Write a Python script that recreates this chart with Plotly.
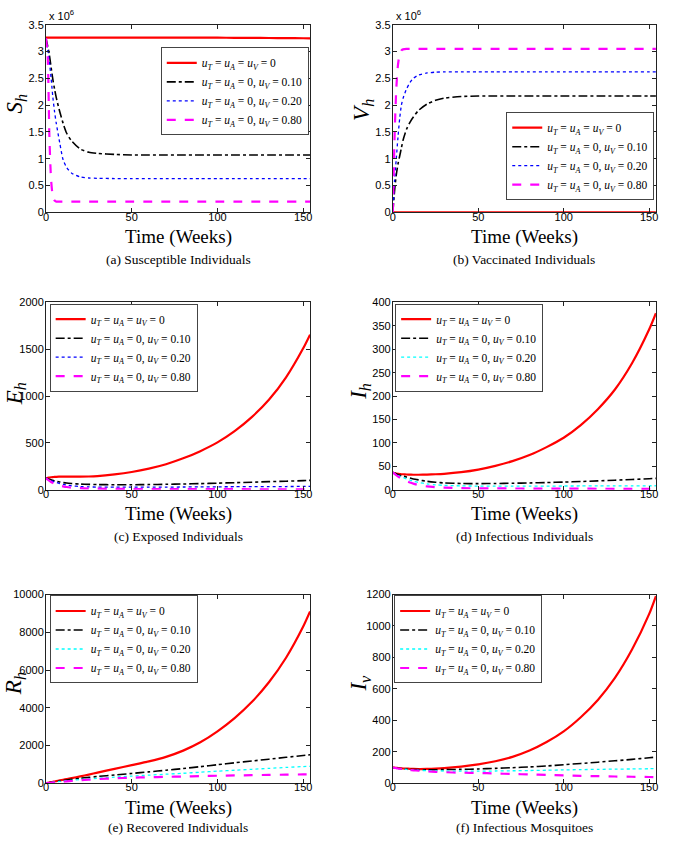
import plotly.graph_objects as go

W, H = 690, 843

# ---------------- data ----------------
T = [0, 1, 2, 3, 4, 5, 6, 8, 10, 12, 15, 20, 25, 30, 40, 50, 60, 70, 80, 90,
     100, 110, 120, 130, 140, 150, 154]

series_labels = [
    "<i>u</i><sub><i>T</i></sub> = <i>u</i><sub><i>A</i></sub> = <i>u</i><sub><i>V</i></sub> = 0",
    "<i>u</i><sub><i>T</i></sub> = <i>u</i><sub><i>A</i></sub> = 0, <i>u</i><sub><i>V</i></sub> = 0.10",
    "<i>u</i><sub><i>T</i></sub> = <i>u</i><sub><i>A</i></sub> = 0, <i>u</i><sub><i>V</i></sub> = 0.20",
    "<i>u</i><sub><i>T</i></sub> = <i>u</i><sub><i>A</i></sub> = 0, <i>u</i><sub><i>V</i></sub> = 0.80",
]

# (a) Susceptible humans, x 10^6
Sh_0 = [3.26, 3.26, 3.26, 3.26, 3.26, 3.26, 3.26, 3.26, 3.26, 3.26, 3.26, 3.26, 3.26, 3.26,
        3.26, 3.26, 3.26, 3.26, 3.26, 3.26, 3.258, 3.256, 3.254, 3.252, 3.25, 3.248, 3.247]
Sh_010 = [3.25, 3.10, 2.93, 2.70, 2.48, 2.30, 2.14, 1.88, 1.66, 1.48, 1.33, 1.18, 1.12, 1.10,
          1.08, 1.07, 1.07, 1.07, 1.07, 1.07, 1.07, 1.07, 1.07, 1.07, 1.07, 1.07, 1.07]
Sh_020 = [3.25, 3.05, 2.80, 2.50, 2.15, 1.88, 1.66, 1.30, 0.98, 0.84, 0.73, 0.66, 0.64, 0.635,
          0.63, 0.63, 0.63, 0.63, 0.63, 0.63, 0.63, 0.63, 0.63, 0.63, 0.63, 0.63, 0.63]
Sh_080 = [3.25, 2.90, 1.40, 0.60, 0.30, 0.22, 0.20, 0.20, 0.20, 0.20, 0.20, 0.20, 0.20, 0.20,
          0.20, 0.20, 0.20, 0.20, 0.20, 0.20, 0.20, 0.20, 0.20, 0.20, 0.20, 0.20, 0.20]

# (b) Vaccinated humans, x 10^6
Vh_0 = [0] * 27
Vh_010 = [0, 0.40, 0.70, 0.90, 1.05, 1.20, 1.35, 1.55, 1.68, 1.78, 1.90, 2.02, 2.09, 2.13,
          2.16, 2.17, 2.17, 2.17, 2.17, 2.17, 2.17, 2.17, 2.17, 2.17, 2.17, 2.17, 2.17]
Vh_020 = [0, 0.60, 1.00, 1.40, 1.75, 2.00, 2.13, 2.30, 2.42, 2.50, 2.56, 2.60, 2.615, 2.62,
          2.62, 2.62, 2.62, 2.62, 2.62, 2.62, 2.62, 2.62, 2.62, 2.62, 2.62, 2.62, 2.62]
Vh_080 = [0, 1.40, 2.30, 2.75, 2.95, 3.02, 3.04, 3.05, 3.05, 3.05, 3.05, 3.05, 3.05, 3.05,
          3.05, 3.05, 3.05, 3.05, 3.05, 3.05, 3.05, 3.05, 3.05, 3.05, 3.05, 3.05, 3.05]

# (c) Exposed humans
Eh_0 = [123, 127, 130, 133, 135, 137, 138, 139, 140, 140, 140, 140, 141, 145, 163, 189, 225,
        272, 335, 412, 505, 625, 775, 960, 1200, 1510, 1656]
Eh_010 = [123, 118, 112, 106, 100, 95, 90, 82, 76, 71, 66, 60, 57, 55, 53, 53, 55, 58, 61, 65,
          70, 75, 80, 86, 91, 97, 100]
Eh_020 = [123, 114, 105, 97, 90, 83, 77, 66, 57, 50, 42, 34, 30, 28, 27, 27, 28, 28, 29, 30,
          31, 32, 32, 33, 34, 35, 35]
Eh_080 = [123, 108, 95, 83, 73, 64, 57, 45, 36, 29, 22, 16, 13, 11, 9, 8, 7, 7, 6, 6, 6, 6, 5,
          5, 5, 5, 5]

# (d) Infectious humans
Ih_0 = [37, 35.5, 34.5, 34, 33.5, 33, 33, 32.5, 32.3, 32, 32, 32.3, 33, 34, 37.5, 43, 51, 61,
        74, 91, 111, 138, 172, 214, 270, 342, 377]
Ih_010 = [37, 35.5, 34, 32.5, 31, 30, 29, 27, 25, 23, 21, 18, 16, 14.5, 13.3, 13, 13.3, 13.8,
          14.5, 15.3, 16.3, 17.5, 18.8, 20.3, 21.8, 23.5, 24.3]
Ih_020 = [37, 35, 33, 31, 29, 27.5, 26, 23, 20.5, 18, 15.5, 12.5, 10.5, 9.3, 8.2, 7.8, 7.6, 7.6,
          7.7, 7.8, 7.9, 8, 8.1, 8.2, 8.3, 8.4, 8.5]
Ih_080 = [37, 34, 31, 28.5, 26, 24, 22, 18.5, 15.5, 13, 10, 7, 5.3, 4.3, 3.4, 3, 2.8, 2.6, 2.5,
          2.4, 2.3, 2.2, 2.1, 2, 1.9, 1.8, 1.8]

# (e) Recovered humans
Rh_0 = [0, 20, 40, 60, 78, 96, 114, 150, 185, 220, 270, 365, 462, 565, 765, 960, 1160, 1400,
        1730, 2170, 2750, 3450, 4300, 5350, 6650, 8300, 9100]
Rh_010 = [0, 17, 33, 49, 65, 80, 95, 123, 150, 175, 210, 265, 315, 360, 440, 520, 605, 690, 780,
          880, 985, 1085, 1180, 1275, 1375, 1470, 1510]
Rh_020 = [0, 15, 29, 42, 54, 65, 76, 96, 115, 133, 157, 195, 230, 263, 325, 381, 432, 480, 530,
          585, 641, 690, 740, 790, 840, 884, 900]
Rh_080 = [0, 11, 21, 31, 40, 49, 57, 72, 86, 100, 122, 158, 190, 220, 262, 295, 320, 340, 360,
          380, 399, 415, 430, 443, 455, 468, 473]

# (f) Infectious mosquitoes
Iv_0 = [100, 99, 98, 97, 96, 95, 94, 93, 92, 91, 90.5, 91, 93, 96, 106, 120, 140, 168, 208, 262,
        330, 420, 530, 670, 850, 1075, 1190]
Iv_010 = [100, 98.5, 97, 95.5, 94, 93, 92, 90, 88.5, 87.5, 86.5, 86, 86, 87, 88.5, 91, 95, 99,
          104, 110, 118, 126, 134, 143, 152, 162, 166]
Iv_020 = [100, 98, 96.5, 95, 93.5, 92, 90.5, 88, 86, 84.5, 82.5, 80.5, 79, 78, 77, 77, 78, 79.5,
          81, 83, 85, 87, 88.5, 90, 91, 92.5, 93]
Iv_080 = [100, 98, 96, 94, 92.5, 91, 89.5, 87, 84.5, 82.5, 80, 76, 73, 70.5, 67, 66, 62, 59, 56,
          53, 50, 47.5, 45, 43, 41.5, 40, 39]

# ---------------- layout helpers ----------------
SERIF = "Liberation Serif"
SANS = "Liberation Sans"


def px(xp):
    return xp / W


def py(yp):
    return 1 - yp / H


LEFT = (43.3, 309.3)
RIGHT = (392.7, 657.7)

panels = [
    dict(data=[Sh_0, Sh_010, Sh_020, Sh_080], yr=[0, 3.5], dt=0.5, yl="S", ys="h", c3="#0000ff",
         xb=LEFT, yb=(19, 209.3), leg=dict(x=308, y=42, xa="right", ya="top"),
         cap="(a) Susceptible Individuals", capy=257, yty=99, ytx=13, exp=True, fmt=""),
    dict(data=[Vh_0, Vh_010, Vh_020, Vh_080], yr=[0, 3.5], dt=0.5, yl="V", ys="h", c3="#0000ff",
         xb=RIGHT, yb=(19, 209.3), leg=dict(x=656, y=197, xa="right", ya="bottom"),
         cap="(b) Vaccinated Individuals", capy=257, yty=105, ytx=362, exp=True, fmt=""),
    dict(data=[Eh_0, Eh_010, Eh_020, Eh_080], yr=[0, 2000], dt=500, yl="E", ys="h", c3="#0000ff",
         xb=LEFT, yb=(300.7, 490.7), leg=dict(x=47, y=302, xa="left", ya="top"),
         cap="(c) Exposed Individuals", capy=538, yty=393, ytx=13, exp=False, fmt="d"),
    dict(data=[Ih_0, Ih_010, Ih_020, Ih_080], yr=[0, 400], dt=50, yl="I", ys="h", c3="#00ffff",
         xb=RIGHT, yb=(300.7, 490.7), leg=dict(x=395, y=302, xa="left", ya="top"),
         cap="(d) Infectious Individuals", capy=538, yty=391, ytx=360, exp=False, fmt="d"),
    dict(data=[Rh_0, Rh_010, Rh_020, Rh_080], yr=[0, 10000], dt=2000, yl="R", ys="h", c3="#00ffff",
         xb=LEFT, yb=(597, 788.5), leg=dict(x=47, y=598, xa="left", ya="top"),
         cap="(e) Recovered Individuals", capy=833, yty=687, ytx=12, exp=False, fmt="d"),
    dict(data=[Iv_0, Iv_010, Iv_020, Iv_080], yr=[0, 1200], dt=200, yl="I", ys="v", c3="#00ffff",
         xb=RIGHT, yb=(597, 788.5), leg=dict(x=394, y=598, xa="left", ya="top"),
         cap="(f) Infectious Mosquitoes", capy=833, yty=687, ytx=360, exp=False, fmt="d"),
]

fig = go.Figure()
annotations = []
layout = dict(width=W, height=H, margin=dict(l=0, r=0, t=0, b=0),
              paper_bgcolor="white", plot_bgcolor="white", showlegend=True)

for i, p in enumerate(panels, start=1):
    sfx = "" if i == 1 else str(i)
    styles = [
        dict(color="#ff0000", width=2.2, dash="solid"),
        dict(color="#000000", width=1.6, dash="dashdot"),
        dict(color=p["c3"], width=1.3, dash="dot"),
        dict(color="#ff00ff", width=2.2, dash="dash"),
    ]
    for k in range(4):
        fig.add_trace(go.Scatter(
            x=T, y=p["data"][k], mode="lines", name=series_labels[k],
            line=dict(shape="spline", smoothing=0.7, **styles[k]),
            xaxis="x" + sfx, yaxis="y" + sfx, legend="legend" + sfx,
        ))
    axcommon = dict(showline=True, linecolor="#222", linewidth=1, mirror="ticks",
                    ticks="inside", ticklen=4, tickcolor="#222", showgrid=False,
                    zeroline=False, tickfont=dict(family=SANS, size=11, color="black"))
    layout["xaxis" + sfx] = dict(domain=[px(p["xb"][0]), px(p["xb"][1])], range=[0, 154],
                                 tick0=0, dtick=50, anchor="y" + sfx, ticklabelstandoff=-6,
                                 **axcommon)
    layout["yaxis" + sfx] = dict(domain=[py(p["yb"][1]), py(p["yb"][0])], range=p["yr"],
                                 tick0=0, dtick=p["dt"], anchor="x" + sfx, tickformat=p["fmt"],
                                 exponentformat="none", ticklabelstandoff=-1, **axcommon)
    lg = p["leg"]
    layout["legend" + sfx] = dict(
        x=px(lg["x"]), y=py(lg["y"]), xanchor=lg["xa"], yanchor=lg["ya"],
        xref="paper", yref="paper", bgcolor="white", bordercolor="#444", borderwidth=1,
        font=dict(family=SERIF, size=11.5, color="black"), tracegroupgap=0,
        itemwidth=30, traceorder="normal")
    xc = (p["xb"][0] + p["xb"][1]) / 2
    annotations.append(dict(text="Time (Weeks)", x=px(xc), y=py(p["yb"][1] + 25), xref="paper",
                            yref="paper", showarrow=False, xanchor="center", yanchor="middle",
                            font=dict(family=SERIF, size=19, color="black")))
    annotations.append(dict(text=p["cap"], x=px(xc), y=py(p["capy"]), xref="paper",
                            yref="paper", showarrow=False, xanchor="center", yanchor="middle",
                            font=dict(family=SERIF, size=13.5, color="black")))
    annotations.append(dict(text="<i>%s</i><sub><i>%s</i></sub>" % (p["yl"], p["ys"]),
                            x=px(p["ytx"]), y=py(p["yty"]), xref="paper", yref="paper",
                            showarrow=False, textangle=-90, xanchor="center", yanchor="middle",
                            font=dict(family=SERIF, size=23, color="black")))
    if p["exp"]:
        annotations.append(dict(text="x 10<sup>6</sup>", x=px(p["xb"][0] + 1), y=py(p["yb"][0] - 1),
                                xref="paper", yref="paper", showarrow=False, xanchor="left",
                                yanchor="bottom", font=dict(family=SANS, size=11, color="black")))

layout["annotations"] = annotations
fig.update_layout(**layout)
fig.write_html("out.html", config={"displayModeBar": False},
               post_script="document.body.style.margin='0';document.body.style.overflow='hidden';")
